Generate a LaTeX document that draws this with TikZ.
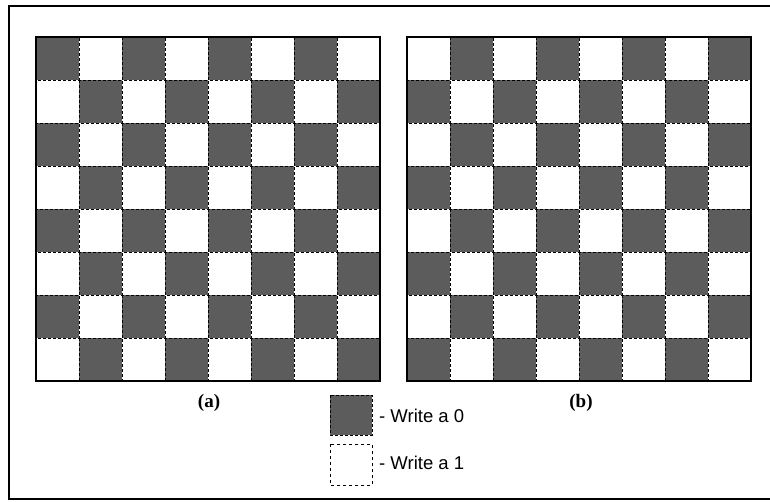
\documentclass[tikz,border=0pt]{standalone}
\usepackage{fontspec}
\setmainfont{Liberation Serif}
\newfontfamily\legendfont{Liberation Sans}
\begin{document}
\begin{tikzpicture}[x=1pt,y=-1pt,
  darksq/.style={fill=black!64, draw=black, densely dashed, line width=0.9pt},
  lightsq/.style={draw=black, dashed, line width=0.8pt},
  boardframe/.style={draw=black, line width=1.3pt},
  outerframe/.style={draw=black, line width=2.2pt},
  caption/.style={font=\fontsize{19}{21}\selectfont\bfseries, inner sep=0pt},
  legendtext/.style={font=\legendfont\fontsize{18.5}{21}\selectfont, anchor=west, inner sep=0pt}]
\useasboundingbox (0,0) rectangle (770,501);
\fill[white] (0,0) rectangle (770,501);
\draw[outerframe] (772,6) -- (9,6) -- (9,499) -- (772,499);
\foreach \i in {0,...,7}{
  \foreach \j in {0,...,7}{
    \pgfmathtruncatemacro\p{mod(\i+\j,2)}
    \ifnum\p=0
      \path[darksq] ({36+43*\i},{37+43*\j}) rectangle ++(43,43);
    \else
      \path[darksq] ({407+43*\i},{37+43*\j}) rectangle ++(43,43);
    \fi
  }
}
\draw[boardframe] (36,37) rectangle (380,381);
\draw[boardframe] (407,37) rectangle (751,381);
\node[caption] (capa) at (209,403) {(a)};
\node[caption] (capb) at (581,403) {(b)};
\path[darksq] (330,395) rectangle (372,435);
\path[lightsq] (330,444) rectangle (372,485);
\node[legendtext] (w0) at (379,416) {- Write a 0};
\node[legendtext] (w1) at (379,463) {- Write a 1};
\end{tikzpicture}
\end{document}
